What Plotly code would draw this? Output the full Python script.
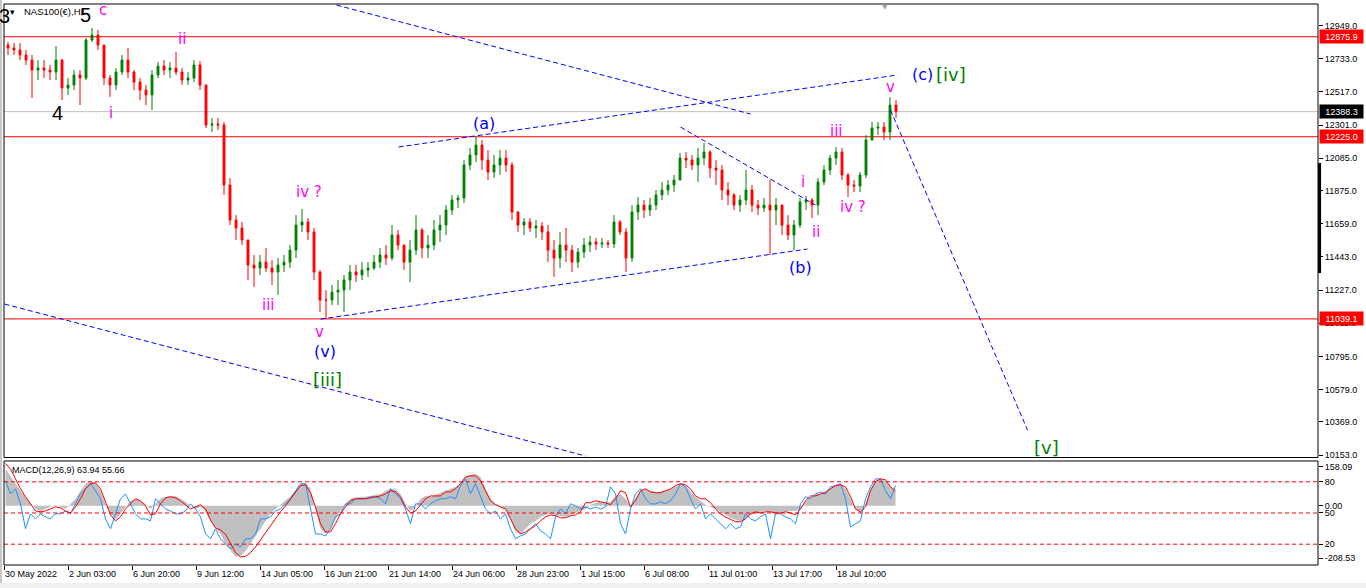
import plotly.graph_objects as go

# ---------------- data ----------------
symbol_title = "NAS100(€),H1"
macd_title = "MACD(12,26,9) 63.94 55.66"

first_open = 12822
price_high = [12842, 12835, 12835, 12790, 12757, 12724, 12724, 12692, 12816, 12730,
              12607, 12659, 12659, 12868, 12933, 12920, 12822, 12627, 12672, 12757,
              12803, 12659, 12607, 12562, 12659, 12711, 12724, 12711, 12776, 12672,
              12646, 12724, 12718, 12562, 12347, 12347, 12321, 11956, 11715, 11670,
              11553, 11455, 11455, 11501, 11422, 11435, 11455, 11520, 11715, 11754,
              11696, 11631, 11357, 11227, 11260, 11292, 11325, 11390, 11390, 11409,
              11409, 11455, 11501, 11520, 11650, 11618, 11520, 11553, 11715, 11631,
              11585, 11683, 11715, 11780, 11846, 11846, 12073, 12152, 12225, 12204,
              12138, 12106, 12138, 12138, 12060, 11740, 11696, 11696, 11683, 11670,
              11650, 11553, 11605, 11631, 11520, 11501, 11566, 11579, 11566, 11566,
              11553, 11715, 11683, 11631, 11780, 11833, 11813, 11826, 11878, 11930,
              11943, 11976, 12119, 12125, 12106, 12152, 12184, 12138, 12073, 12041,
              11930, 11859, 11846, 12008, 11911, 11813, 11826, 11943, 11826, 11785,
              11715, 11683, 11826, 11839, 11826, 11956, 12041, 12106, 12158, 12152,
              11989, 11943, 11995, 12236, 12321, 12321, 12321, 12484, 12464]
price_low = [12757, 12757, 12724, 12692, 12477, 12594, 12607, 12594, 12594, 12464,
             12497, 12529, 12431, 12594, 12842, 12790, 12562, 12484, 12529, 12627,
             12607, 12529, 12464, 12431, 12399, 12607, 12627, 12607, 12627, 12562,
             12562, 12581, 12529, 12282, 12256, 12269, 11846, 11650, 11553, 11520,
             11292, 11247, 11325, 11344, 11260, 11195, 11344, 11370, 11435, 11605,
             11553, 11292, 11084, 11039, 11129, 11129, 11084, 11227, 11279, 11292,
             11312, 11357, 11370, 11390, 11420, 11487, 11357, 11279, 11455, 11435,
             11435, 11487, 11540, 11585, 11715, 11761, 11793, 12008, 12060, 12008,
             11943, 11956, 11976, 11995, 11683, 11605, 11585, 11605, 11566, 11553,
             11409, 11312, 11370, 11409, 11344, 11370, 11435, 11474, 11487, 11501,
             11501, 11501, 11585, 11344, 11409, 11683, 11696, 11709, 11748, 11813,
             11846, 11865, 11943, 12021, 12008, 11930, 12041, 11956, 11911, 11813,
             11780, 11748, 11735, 11780, 11735, 11715, 11735, 11455, 11650, 11585,
             11553, 11487, 11631, 11748, 11696, 11715, 11911, 11976, 12041, 11943,
             11833, 11865, 11865, 11956, 12204, 12236, 12204, 12204, 12347]
price_close = [12803, 12790, 12757, 12724, 12659, 12672, 12659, 12646, 12724, 12542,
               12562, 12627, 12607, 12855, 12887, 12822, 12607, 12562, 12646, 12724,
               12646, 12581, 12529, 12497, 12627, 12685, 12659, 12672, 12646, 12594,
               12607, 12692, 12562, 12301, 12308, 12301, 11911, 11683, 11631, 11553,
               11390, 11370, 11409, 11370, 11344, 11390, 11409, 11487, 11650, 11670,
               11605, 11344, 11162, 11162, 11214, 11227, 11292, 11344, 11325, 11357,
               11370, 11409, 11455, 11435, 11585, 11520, 11409, 11487, 11618, 11501,
               11520, 11618, 11650, 11748, 11813, 11826, 12041, 12106, 12171, 12073,
               11995, 12041, 12086, 12041, 11735, 11650, 11670, 11631, 11644, 11605,
               11487, 11435, 11520, 11487, 11409, 11474, 11520, 11540, 11527, 11533,
               11527, 11670, 11605, 11435, 11735, 11780, 11748, 11780, 11846, 11878,
               11911, 11943, 12086, 12073, 12041, 12086, 12125, 12021, 12008, 11878,
               11846, 11780, 11813, 11878, 11780, 11761, 11780, 11748, 11780, 11650,
               11585, 11650, 11800, 11813, 11780, 11930, 12008, 12086, 12125, 11976,
               11911, 11904, 11976, 12204, 12282, 12288, 12256, 12431, 12388.3]

macd_main = [130, 102, 78, 53, 32, 14, -11, -18, -11, -4,
             4, -4, -11, 7, 25, 53, 78, 88, 81, 53,
             7, -28, -46, -28, -4, 18, 25, 18, 7, -11,
             7, 25, 32, 35, 35, 25, 14, 0, -11, -4,
             -18, -53, -74, -99, -134, -159, -180, -176, -159, -134,
             -109, -81, -53, -28, -11, 4, 18, 35, 53, 74,
             81, 60, -11, -81, -99, -81, -46, -18, 7, 25,
             28, 32, 32, 35, 39, 42, 53, 60, 60, 42,
             7, -18, -4, 25, 35, 32, 39, 46, 53, 60,
             67, 78, 102, 109, 113, 102, 60, 25, 7, 0,
             -11, -46, -92, -99, -81, -63, -53, -39, -32, -28,
             -32, -35, -39, -32, -25, -18, -11, 4, 11, 14,
             11, 14, 35, 42, 25, 0, 25, 53, 60, 53,
             49, 49, 53, 60, 67, 74, 71, 53, 32, 18,
             4, -4, -11, -21, -32, -42, -49, -53, -46, -32,
             -25, -21, -18, -21, -25, -21, -21, -18, -18, -11,
             14, 32, 42, 42, 53, 60, 74, 78, 60, 25,
             -11, -25, 7, 60, 88, 95, 88, 67, 53]
macd_signal = [150, 130, 95, 60, 32, 7, -18, -21, -18, -11,
               -4, -7, -18, -25, -4, 25, 60, 78, 81, 60,
               14, -32, -53, -39, -11, 7, 25, 18, 0, -32,
               -28, 7, 28, 32, 28, 18, 4, -11, -4, 4,
               -11, -50, -78, -85, -100, -130, -165, -180, -178, -165,
               -145, -120, -95, -70, -45, -21, 0, 25, 49, 71,
               74, 46, -4, -63, -92, -92, -63, -28, -4, 18,
               25, 25, 25, 28, 32, 35, 42, 53, 49, 32,
               -4, -25, -18, 4, 25, 35, 35, 35, 49, 49,
               60, 78, 102, 106, 106, 88, 53, 18, 4, -4,
               -11, -46, -81, -99, -92, -81, -70, -53, -39, -32,
               -35, -42, -42, -35, -32, -21, 11, 11, 18, 14,
               11, 4, 25, 53, 46, -4, 18, 53, 60, 49,
               46, 46, 53, 60, 71, 78, 74, 60, 35, 25,
               25, 11, -11, -28, -39, -49, -56, -56, -46, -28,
               -21, -25, -21, -21, -25, -25, -21, -25, -32, -11,
               18, 35, 35, 42, 46, 60, 71, 74, 67, 32,
               -11, -21, -4, 53, 85, 95, 92, 67, 53]
macd_fast = [88, 42, 60, 7, -81, -28, -46, -28, -39, -46,
             -28, -28, -18, -28, 7, 42, 60, 78, 53, 25,
             -46, -81, -28, 25, 42, 7, -28, -46, -46, -53,
             25, 7, -11, -18, -28, -28, -18, 7, -11, -39,
             -99, -116, -81, -116, -134, -152, -134, -145, -116, -116,
             -99, -46, -46, -39, -18, -11, 7, 25, 53, 78,
             78, -11, -99, -99, -106, -81, -39, -28, 7, 7,
             25, 25, 25, 32, 32, 25, 7, 60, 42, 25,
             -11, -63, 7, 7, -11, 7, 18, 25, 25, 32,
             25, 71, 95, 42, 78, 32, -11, -28, -18, -46,
             -28, -81, -116, -106, -99, -81, -63, -88, -99, -116,
             -39, -11, -28, 7, 0, -11, -4, -11, -4, -11,
             -4, 67, 42, -63, -99, -11, 42, 60, 25, 7,
             7, 14, 7, 18, 42, 78, 67, 25, -11, 7,
             -46, -28, -46, -63, -81, -63, -81, -74, -28, -46,
             -53, -39, -28, -116, -28, -28, -39, -46, -63, 7,
             32, 25, 42, 49, 42, 67, 71, 78, 25, -74,
             -63, -53, 25, 67, 95, 95, 53, 25, 71]
macd_levels = [80, 50, 20]
macd_extremes = ["158.09", "0.00", "-208.53"]

date_labels = ["30 May 2022", "2 Jun 03:00", "6 Jun 20:00", "9 Jun 12:00", "14 Jun 05:00",
               "16 Jun 21:00", "21 Jun 14:00", "24 Jun 06:00", "28 Jun 23:00", "1 Jul 15:00",
               "6 Jul 08:00", "11 Jul 01:00", "13 Jul 17:00", "18 Jul 10:00"]
price_ticks = [12949.0, 12733.0, 12517.0, 12301.0, 12085.0, 11875.0, 11659.0,
               11443.0, 11227.0, 11011.0, 10795.0, 10579.0, 10369.0, 10153.0]
red_levels = [12875.9, 12225.0, 11039.1]
bid_level = 12388.3

# trend lines: (bar0, price0, bar1, price1)
trend_lines = [(331, 13082, 745, 12373),
               (393, 12158, 892, 12627),
               (315, 11038, 802, 11494),
               (675, 12288, 810, 11780),
               (-1, 11136, 580, 10147),
               (885, 12399, 1022, 10316)]

MAG, BLU, GRN, BLK = "#FF00FF", "#0000FF", "#008000", "#000000"
wave_labels = [("5", 80, 13017, BLK, 20), ("4", 52, 12379, BLK, 20), ("3", -1, 13011, BLK, 20),
               ("c", 97, 13050, MAG, 15), ("i", 105, 12379, MAG, 15), ("ii", 176, 12861, MAG, 15),
               ("iv ?", 303, 11865, MAG, 15), ("iii", 263, 11129, MAG, 15), ("v", 314, 10954, MAG, 15),
               ("(v)", 319, 10830, BLU, 16), ("[iii]", 322, 10648, GRN, 18),
               ("(a)", 478, 12314, BLU, 16), ("(b)", 795, 11377, BLU, 16),
               ("i", 797, 11930, MAG, 15), ("ii", 810, 11605, MAG, 15), ("iii", 831, 12262, MAG, 15),
               ("iv ?", 847, 11767, MAG, 15), ("v", 885, 12549, MAG, 15),
               ("(c)", 917, 12627, BLU, 16), ("[iv]", 945, 12633, GRN, 18), ("[v]", 1041, 10199, GRN, 18)]

# ---------------- layout constants ----------------
candle_step = 6
macd_step = 5
bars_per_label = 64
X_RANGE = [-1.5, 1312.5]
Y_RANGE = [10137, 13089]
M_RANGE = [-208.53, 158.09]
MAIN_DOM = [0.1916, 1.0]
MACD_DOM = [0.0, 0.1854]
TICKFONT = dict(family="Liberation Sans", size=9, color="black")

fig = go.Figure()

opens = [first_open] + price_close[:-1]
cx = [candle_step * i + 2.5 for i in range(len(price_close))]
fig.add_trace(go.Candlestick(
    x=cx, open=opens, high=price_high, low=price_low, close=price_close,
    increasing=dict(line=dict(color="#008000", width=1), fillcolor="#008000"),
    decreasing=dict(line=dict(color="#FF0000", width=1), fillcolor="#FF0000"),
    whiskerwidth=0, xaxis="x", yaxis="y", hoverinfo="skip", showlegend=False))

mx = [macd_step * k for k in range(len(macd_main))]
fig.add_trace(go.Scatter(x=mx, y=macd_main, mode="lines", fill="tozeroy", fillcolor="#C0C0C0",
                         line=dict(width=0, color="#C0C0C0"), xaxis="x", yaxis="y2",
                         hoverinfo="skip", showlegend=False))
fig.add_trace(go.Scatter(x=mx, y=macd_fast, mode="lines", line=dict(color="#1E90FF", width=1),
                         xaxis="x", yaxis="y2", hoverinfo="skip", showlegend=False))
fig.add_trace(go.Scatter(x=mx, y=macd_signal, mode="lines", line=dict(color="#FF0000", width=1),
                         xaxis="x", yaxis="y2", hoverinfo="skip", showlegend=False))

lx, ly = [], []
for lv in macd_levels:
    lx += [X_RANGE[0], X_RANGE[1], None]
    ly += [lv, lv, None]
fig.add_trace(go.Scatter(x=lx, y=ly, mode="lines", line=dict(color="#FF0000", width=1, dash="4px,3px"),
                         xaxis="x", yaxis="y3", hoverinfo="skip", showlegend=False))

shapes = []
for lv in red_levels:
    shapes.append(dict(type="line", xref="paper", x0=0, x1=1, yref="y", y0=lv, y1=lv,
                       line=dict(color="#FF0000", width=1), layer="below"))
shapes.append(dict(type="line", xref="paper", x0=0, x1=1, yref="y", y0=bid_level, y1=bid_level,
                   line=dict(color="#C0C0C0", width=1), layer="below"))
for (a0, p0, a1, p1) in trend_lines:
    shapes.append(dict(type="line", xref="x", yref="y", x0=a0, y0=p0, x1=a1, y1=p1,
                       line=dict(color="#0000FF", width=1, dash="5px,3px")))
# frames
shapes.append(dict(type="rect", xref="paper", yref="paper", x0=0, x1=1, y0=MAIN_DOM[0], y1=MAIN_DOM[1],
                   line=dict(color="black", width=1)))
shapes.append(dict(type="rect", xref="paper", yref="paper", x0=0, x1=1, y0=MACD_DOM[0], y1=MACD_DOM[1],
                   line=dict(color="black", width=1)))
# scale bar on the price axis
shapes.append(dict(type="line", xref="paper", yref="y", x0=1.0012, x1=1.0012, y0=12054, y1=11338,
                   line=dict(color="black", width=3)))
# window edges
shapes.append(dict(type="rect", xref="paper", yref="paper", x0=-0.004, x1=-0.0015, y0=-0.05, y1=1.01,
                   fillcolor="#C8C8C8", line=dict(width=0)))
shapes.append(dict(type="rect", xref="paper", yref="paper", x0=-0.01, x1=1.05, y0=-0.045, y1=-0.0321,
                   fillcolor="#F0F0F0", line=dict(width=0)))

annotations = []
for (t, bx, py, col, sz) in wave_labels:
    fam = "Liberation Sans" if col == BLK else "DejaVu Sans"
    annotations.append(dict(x=bx, y=py, xref="x", yref="y", text=t, showarrow=False,
                            font=dict(family=fam, size=sz, color=col)))
annotations.append(dict(x=16, y=13037, xref="x", yref="y", text=symbol_title, showarrow=False,
                        xanchor="left", font=dict(family="Liberation Sans", size=9.5, color="black")))
annotations.append(dict(x=7, y=13040, xref="x", yref="y", text="▾", showarrow=False,
                        font=dict(family="DejaVu Sans", size=9, color="black")))
annotations.append(dict(x=879, y=13068, xref="x", yref="y", text="▼", showarrow=False,
                        font=dict(family="DejaVu Sans", size=7, color="#A0A0A0")))
annotations.append(dict(x=4, y=126, xref="x", yref="y2", text=macd_title, showarrow=False,
                        xanchor="left", font=dict(family="Liberation Sans", size=9, color="black")))
for lv in red_levels:
    annotations.append(dict(x=1, xref="paper", y=lv, yref="y", xanchor="left", xshift=1,
                            text=f"{lv:.1f}", showarrow=False, bgcolor="#FF0000", width=41, height=11,
                            borderpad=1, font=dict(family="Liberation Sans", size=9, color="white")))
annotations.append(dict(x=1, xref="paper", y=bid_level, yref="y", xanchor="left", xshift=1,
                        text=f"{bid_level:.1f}", showarrow=False, bgcolor="#000000", width=41, height=11,
                        borderpad=1, font=dict(family="Liberation Sans", size=9, color="white")))

fig.update_layout(
    width=1366, height=588,
    margin=dict(l=4, r=48, t=4, b=23, autoexpand=False),
    paper_bgcolor="white", plot_bgcolor="white",
    showlegend=False, boxgap=0.55,
    shapes=shapes, annotations=annotations,
    xaxis=dict(range=X_RANGE, anchor="y2", domain=[0, 1], automargin=False,
               tickvals=[bars_per_label * k - 1 for k in range(len(date_labels))],
               ticktext=date_labels, ticks="outside", ticklen=4, tickcolor="black",
               ticklabelposition="outside right", tickfont=TICKFONT,
               showgrid=False, zeroline=False, showline=False,
               rangeslider=dict(visible=False), fixedrange=True),
    yaxis=dict(domain=MAIN_DOM, range=Y_RANGE, side="right", anchor="x", automargin=False,
               tickvals=price_ticks, ticktext=[f"{v:.1f}" for v in price_ticks],
               ticks="outside", ticklen=4, tickcolor="black", tickfont=TICKFONT,
               showgrid=False, zeroline=False, showline=False, fixedrange=True),
    yaxis2=dict(domain=MACD_DOM, range=M_RANGE, side="right", anchor="x", automargin=False,
                tickvals=[138, 0, -184], ticktext=macd_extremes,
                ticks="outside", ticklen=4, tickcolor="black", tickfont=TICKFONT,
                showgrid=False, zeroline=False, showline=False, fixedrange=True),
    yaxis3=dict(overlaying="y2", range=[0, 100], side="right", anchor="x", automargin=False,
                tickvals=macd_levels, ticktext=[str(v) for v in macd_levels],
                ticks="outside", ticklen=4, tickcolor="black", tickfont=TICKFONT,
                showgrid=False, zeroline=False, showline=False, fixedrange=True),
)

fig.write_html("out.html", config={"displayModeBar": False},
               post_script="document.body.style.margin='0';document.body.style.padding='0';")
